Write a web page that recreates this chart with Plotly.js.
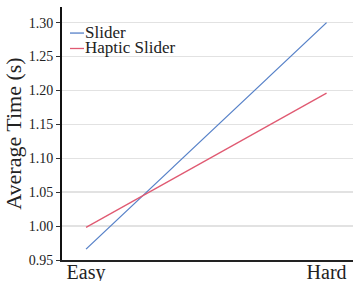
<!DOCTYPE html>
<html><head><meta charset="utf-8">
<script src="https://cdn.plot.ly/plotly-3.0.1.min.js"></script>
<style>html,body{margin:0;padding:0;background:#fff}#c{width:353px;height:281px}</style>
</head><body><div id="c"></div>
<script>
var categories = ["Easy", "Hard"];
var sliderTimes = [0.966, 1.300];
var hapticTimes = [0.998, 1.196];
var seriesNames = ["Slider", "Haptic Slider"];
var yTicks = [0.95, 1.00, 1.05, 1.10, 1.15, 1.20, 1.25, 1.30];
var yTickText = ["0.95", "1.00", "1.05", "1.10", "1.15", "1.20", "1.25", "1.30"];
var yTitle = "Average Time (s)";
var colors = ["#5580c8", "#e05a72"];
var font = "Liberation Serif";

var traces = [
  {x: categories, y: sliderTimes, name: seriesNames[0], mode: "lines", type: "scatter",
   line: {color: colors[0], width: 1.3}},
  {x: categories, y: hapticTimes, name: seriesNames[1], mode: "lines", type: "scatter",
   line: {color: colors[1], width: 1.3}}
];

var legY = [0.897, 0.836];
var shapes = [], annotations = [];
seriesNames.forEach(function(n, i){
  shapes.push({type: "line", xref: "paper", yref: "paper", x0: 0.0275, x1: 0.0756,
    y0: legY[i], y1: legY[i], line: {color: colors[i], width: 1.3}});
  annotations.push({xref: "paper", yref: "paper", x: 0.077, y: legY[i] + 0.004,
    xanchor: "left", yanchor: "middle", showarrow: false, text: n, borderpad: 0,
    font: {family: font, size: 17, color: "#222"}});
});

var layout = {
  width: 353, height: 281,
  margin: {l: 62, r: 0, t: 7, b: 21, pad: 0},
  paper_bgcolor: "#fff", plot_bgcolor: "#fff",
  showlegend: false,
  font: {family: font, color: "#222"},
  xaxis: {type: "category", range: [-0.1, 1.11], showgrid: false, zeroline: false,
    showline: true, linecolor: "#222", linewidth: 1.5, ticks: "", ticklabelstandoff: -7,
    tickfont: {family: font, size: 20, color: "#222"}},
  yaxis: {range: [0.95, 1.323], tickvals: yTicks, ticktext: yTickText,
    showgrid: true, gridcolor: "#e2e2e2", gridwidth: 1.5, zeroline: false,
    showline: true, linecolor: "#111", linewidth: 2, ticks: "outside", ticklen: 4,
    tickcolor: "#333", tickwidth: 1,
    tickfont: {family: font, size: 14, color: "#222"},
    title: {text: yTitle + "\u00a0\u00a0\u00a0\u00a0\u00a0\u00a0", font: {family: font, size: 22, color: "#222"}, standoff: 1}},
  shapes: shapes, annotations: annotations
};
Plotly.newPlot("c", traces, layout, {displayModeBar: false, staticPlot: true});
</script></body></html>
